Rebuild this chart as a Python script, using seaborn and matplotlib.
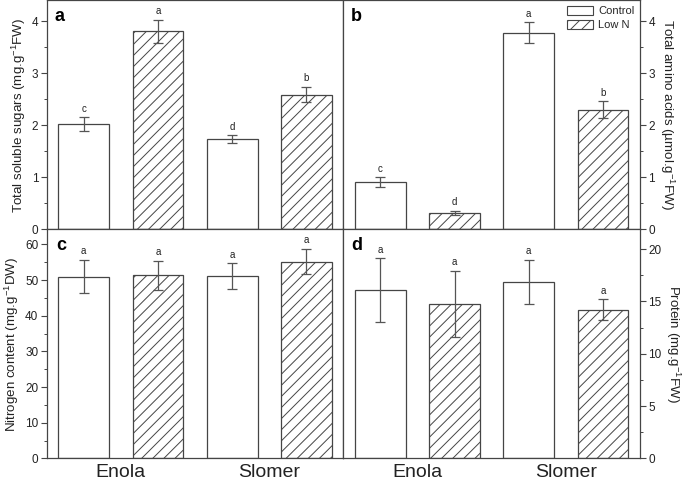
import numpy as np
import pandas as pd
import seaborn as sns
import matplotlib
matplotlib.use("Agg")
import matplotlib.pyplot as plt
from matplotlib.patches import Patch
from matplotlib.ticker import MultipleLocator

# ---------------- data ----------------
cultivars = ["Enola", "Slomer"]
treatments = ["Control", "Low N"]

sugars_control = [2.03, 1.74]
sugars_lown = [3.81, 2.59]
sugars_err_control = [0.13, 0.07]
sugars_err_lown = [0.22, 0.15]
sugars_let_control = ["c", "d"]
sugars_let_lown = ["a", "b"]

amino_control = [0.91, 3.78]
amino_lown = [0.32, 2.30]
amino_err_control = [0.09, 0.20]
amino_err_lown = [0.04, 0.16]
amino_let_control = ["c", "a"]
amino_let_lown = ["d", "b"]

nitrogen_control = [51.0, 51.1]
nitrogen_lown = [51.3, 55.2]
nitrogen_err_control = [4.7, 3.6]
nitrogen_err_lown = [4.1, 3.6]
nitrogen_let_control = ["a", "a"]
nitrogen_let_lown = ["a", "a"]

protein_control = [16.1, 16.9]
protein_lown = [14.8, 14.2]
protein_err_control = [3.05, 2.1]
protein_err_lown = [3.15, 1.0]
protein_let_control = ["a", "a"]
protein_let_lown = ["a", "a"]

sns.set_theme(style="ticks")
plt.rcParams["font.family"] = ["Liberation Sans", "DejaVu Sans"]
plt.rcParams["mathtext.fontset"] = "custom"
plt.rcParams["mathtext.rm"] = "Liberation Sans"
plt.rcParams["mathtext.it"] = "Liberation Sans:italic"
plt.rcParams["mathtext.bf"] = "Liberation Sans:bold"
plt.rcParams["hatch.linewidth"] = 0.7

EDGE = "#454545"
ERR = "#555555"
TXT = "#222222"

panels = [
    ("a", sugars_control, sugars_lown, sugars_err_control, sugars_err_lown,
     sugars_let_control, sugars_let_lown, r"Total soluble sugars (mg.g$^{-1}$FW)", 4.4, 1, 0.5, "left"),
    ("b", amino_control, amino_lown, amino_err_control, amino_err_lown,
     amino_let_control, amino_let_lown, r"Total amino acids (µmol.g$^{-1}$FW)", 4.4, 1, 0.5, "right"),
    ("c", nitrogen_control, nitrogen_lown, nitrogen_err_control, nitrogen_err_lown,
     nitrogen_let_control, nitrogen_let_lown, r"Nitrogen content (mg.g$^{-1}$DW)", 64.2, 10, 5, "left"),
    ("d", protein_control, protein_lown, protein_err_control, protein_err_lown,
     protein_let_control, protein_let_lown, r"Protein (mg.g$^{-1}$FW)", 21.88, 5, 2.5, "right"),
]

fig, axes = plt.subplots(2, 2, figsize=(6.85, 4.82), dpi=100)
fig.subplots_adjust(left=0.0682, right=0.9343, top=0.999, bottom=0.0488,
                    wspace=0, hspace=0)

for ax, (tag, vc, vl, ec, el, lc, ll, ylab, ymax, major, minor, side) in zip(axes.flat, panels):
    df = pd.DataFrame({
        "cultivar": cultivars * 2,
        "treatment": [treatments[0]] * 2 + [treatments[1]] * 2,
        "value": list(vc) + list(vl),
    })
    sns.barplot(data=df, x="cultivar", y="value", hue="treatment",
                hue_order=treatments, order=cultivars,
                palette=["white", "white"], edgecolor=EDGE, linewidth=0.9,
                width=1.0, gap=0.315, errorbar=None, legend=False, ax=ax)
    errs = [ec, el]
    lets = [lc, ll]
    bar_conts = list(ax.containers)[:2]
    for hi, cont in enumerate(bar_conts):
        for bi, bar in enumerate(cont.patches):
            if hi == 1:
                bar.set_hatch("///")
            xc = bar.get_x() + bar.get_width() / 2
            h = bar.get_height()
            e = errs[hi][bi]
            ax.errorbar(xc, h, yerr=e, fmt="none", ecolor=ERR, elinewidth=0.9,
                        capsize=3.5, capthick=0.9, zorder=5)
            ax.annotate(lets[hi][bi], (xc, h + e), xytext=(0, 2.5),
                        textcoords="offset points", ha="center", va="bottom",
                        fontsize=7, color=TXT)
    ax.set_xlim(-0.5, 1.5)
    ax.set_ylim(0, ymax)
    ax.yaxis.set_major_locator(MultipleLocator(major))
    ax.yaxis.set_minor_locator(MultipleLocator(minor))
    ax.set_xlabel("")
    for sp in ax.spines.values():
        sp.set_visible(True)
        sp.set_color(EDGE)
        sp.set_linewidth(0.9)
    ax.tick_params(axis="x", length=0, labelsize=14, labelcolor=TXT, pad=4)
    ax.tick_params(axis="y", which="major", direction="out", length=4, width=0.8,
                   labelsize=8.5, labelcolor=TXT, color=EDGE, pad=2)
    ax.tick_params(axis="y", which="minor", direction="out", length=2.5, width=0.7,
                   color=EDGE)
    if side == "right":
        ax.yaxis.tick_right()
        ax.yaxis.set_label_position("right")
        ax.set_ylabel(ylab, fontsize=9.6, color=TXT, rotation=270, labelpad=15)
    else:
        ax.set_ylabel(ylab, fontsize=9.6, color=TXT, labelpad=3)
    if tag in ("a", "b"):
        ax.tick_params(axis="x", labelbottom=False)
    tx = 0.033 if tag == "c" else 0.025
    ax.text(tx, 0.91, tag, transform=ax.transAxes, fontsize=13,
            fontweight="bold", va="baseline", ha="left", color="black")

handles = [Patch(facecolor="white", edgecolor=EDGE, linewidth=0.8, label="Control"),
           Patch(facecolor="white", edgecolor=EDGE, linewidth=0.8, hatch="///", label="Low N")]
axes[0, 1].legend(handles=handles, loc="upper right", frameon=False, fontsize=8,
                  handlelength=2.3, handleheight=0.85, handletextpad=0.5,
                  labelspacing=0.35, borderaxespad=0.3, borderpad=0.2)

fig.savefig("out.png", dpi=100)
